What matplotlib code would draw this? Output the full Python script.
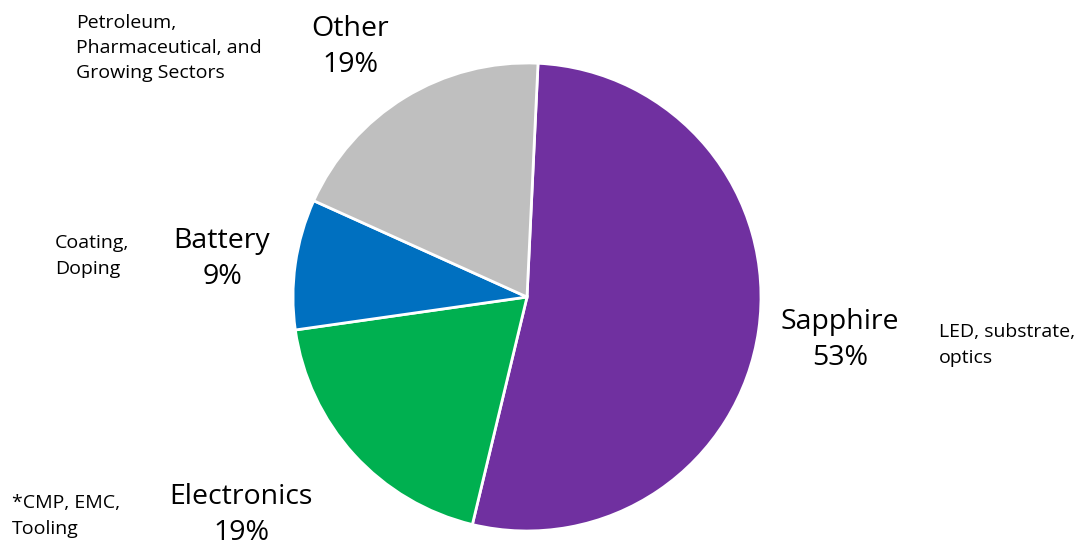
import matplotlib
matplotlib.use("Agg")
import matplotlib.pyplot as plt

categories = ["Sapphire", "Electronics", "Battery", "Other"]
shares = [53, 19, 9, 19]
notes = ["LED, substrate,\noptics", "*CMP, EMC,\nTooling", "Coating,\nDoping",
         "Petroleum,\nPharmaceutical, and\nGrowing Sectors"]
colors = ["#7030A0", "#00B050", "#0070C0", "#BFBFBF"]

plt.rcParams["font.family"] = ["Open Sans", "DejaVu Sans"]

W, H = 1090, 547
fig = plt.figure(figsize=(W / 100, H / 100), dpi=100)
ax = fig.add_axes([0, 0, 1, 1])

cx, cy, r = 527, H - 297, 234
ax.pie(shares, colors=colors, startangle=87.3, counterclock=False,
       center=(cx, cy), radius=r, frame=True,
       wedgeprops=dict(edgecolor="white", linewidth=2))
ax.set_xlim(0, W)
ax.set_ylim(0, H)
ax.set_aspect("equal")
ax.axis("off")

# category name + percentage labels
label_pos = [(840, 340), (241, 515), (222, 259), (350, 47)]
for name, val, (x, y) in zip(categories, shares, label_pos):
    ax.text(x, H - y, f"{name}\n{val}%", ha="center", va="center",
            fontsize=20.5, linespacing=1.42, color="black")

# descriptive notes
note_pos = [(939, 345), (12, 516), (55, 256), (76, 48)]
for txt, (x, y) in zip(notes, note_pos):
    ax.text(x, H - y, txt, ha="left", va="center", fontsize=14,
            linespacing=1.52, color="black")

fig.savefig("out.png", dpi=100, facecolor="white")
